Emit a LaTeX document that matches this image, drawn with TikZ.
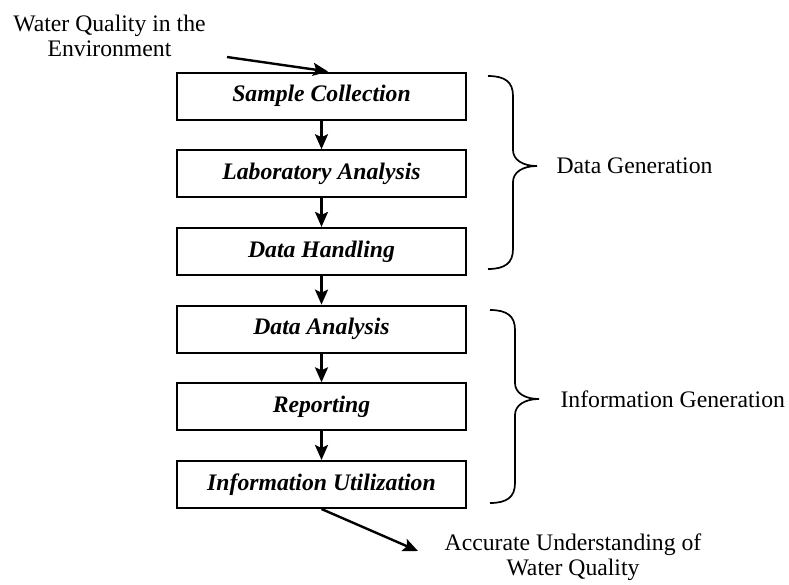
\documentclass[tikz,border=0pt]{standalone}
\usepackage{fontspec}
\setmainfont{Liberation Serif}
\usepackage{tikz}
\usetikzlibrary{arrows.meta,calc,positioning}
\newcommand{\figfont}{\fontsize{23.7pt}{25pt}\selectfont}

\begin{document}
\begin{tikzpicture}[x=1pt,y=-1pt,
    every node/.style={font=\figfont},
    block/.style={rectangle,draw,line width=2pt,minimum width=289pt,minimum height=47pt,inner sep=0pt,font=\figfont\bfseries\itshape},
    connector/.style={-{Stealth[length=15pt,width=13pt,inset=3pt]},line width=2.4pt},
    curly/.style={line width=1.7pt},
    note/.style={align=center}]
    \useasboundingbox (0,0) rectangle (789,584);
    % The six steps, stacked one below the other
    \node (sample) [block] at (321.5,96) {Sample Collection};
    \node (lab) [block,below=28.7pt of sample] {Laboratory Analysis};
    \node (handling) [block,below=28.7pt of lab] {Data Handling};
    \node (analysis) [block,below=28.7pt of handling] {Data Analysis};
    \node (reporting) [block,below=28.7pt of analysis] {Reporting};
    \node (utilize) [block,below=28.7pt of reporting] {Information Utilization};

    \node (source) [note] at (109.5,35.5) {Water Quality in the\\Environment};
    \node (result) [note] at (573,557) {Accurate Understanding of\\Water Quality};
    \coordinate (inlet) at (227,57);
    \coordinate (outlet) at (418,551);

    \draw[connector] (inlet) to ([xshift=6.5pt]sample.north);
    \draw[connector] (sample) to (lab);
    \draw[connector] (lab) to (handling);
    \draw[connector] (handling) to (analysis);
    \draw[connector] (analysis) to (reporting);
    \draw[connector] (reporting) to (utilize);
    \draw[connector] (utilize.south) to (outlet);

    % Braces on the right
    \draw[curly] (488,76) .. controls (505,76) and (513,82) .. (513,96) -- (513,150)
      .. controls (513,160) and (523,166) .. (537,166)
      .. controls (523,166) and (513,172) .. (513,182) -- (513,249)
      .. controls (513,263) and (505,269) .. (488,269);
    \draw[curly] (490,310) .. controls (507,310) and (515,316) .. (515,330) -- (515,383)
      .. controls (515,393) and (525,399) .. (539,399)
      .. controls (525,399) and (515,405) .. (515,415) -- (515,483)
      .. controls (515,497) and (507,503) .. (490,503);
    \node (datagen) [anchor=west] at (553,166) {Data Generation};
    \node (infogen) [anchor=west] at (557,399) {Information Generation};
\end{tikzpicture}
\end{document}
